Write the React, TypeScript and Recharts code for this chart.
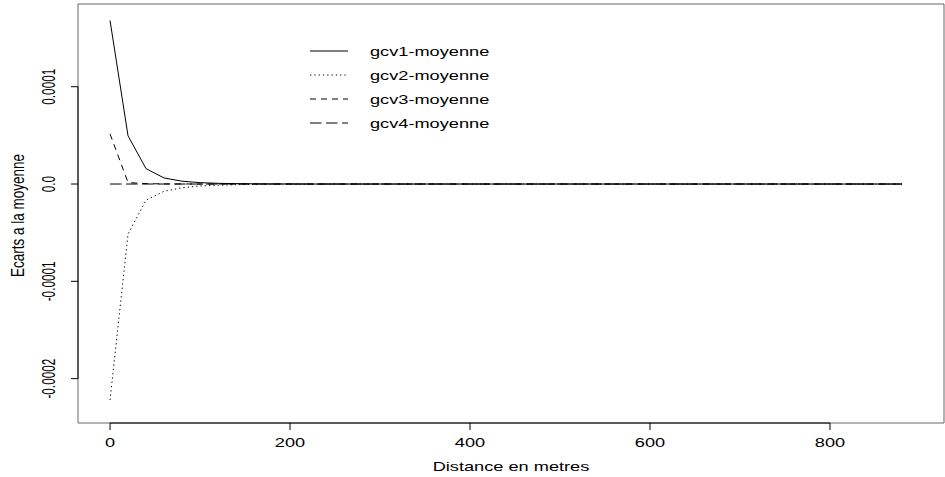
import { LineChart, Line, XAxis, YAxis, Legend, ReferenceArea, ReferenceLine, Label } from 'recharts';

// distance (m) sampled every 20 m
const distances = Array.from({ length: 45 }, (_, i) => i * 20);

const gcv1 = [
  0.000168, 0.0000495, 0.0000158, 0.0000062, 0.0000029, 0.0000014, 0.0000007, 0.0000004, 0.0000002,
  0.0000001, 0.00000005, 0, 0, 0, 0, 0, 0, 0, 0, 0, 0, 0, 0, 0, 0, 0, 0, 0, 0, 0, 0, 0, 0, 0, 0, 0,
  0, 0, 0, 0, 0, 0, 0, 0, 0,
];
const gcv2 = [
  -0.000222, -0.0000515, -0.0000165, -0.0000075, -0.0000038, -0.000002, -0.0000012, -0.0000007,
  -0.0000004, -0.0000002, -0.0000001, -0.00000005, 0, 0, 0, 0, 0, 0, 0, 0, 0, 0, 0, 0, 0, 0, 0, 0, 0,
  0, 0, 0, 0, 0, 0, 0, 0, 0, 0, 0, 0, 0, 0, 0, 0,
];
const gcv3 = [
  0.0000515, 0.0000015, 0.0000004, 0.0000001, 0.00000005, 0, 0, 0, 0, 0, 0, 0, 0, 0, 0, 0, 0, 0, 0,
  0, 0, 0, 0, 0, 0, 0, 0, 0, 0, 0, 0, 0, 0, 0, 0, 0, 0, 0, 0, 0, 0, 0, 0, 0, 0,
];
const gcv4 = [
  0, 0, 0, 0, 0, 0, 0, 0, 0, 0, 0, 0, 0, 0, 0, 0, 0, 0, 0, 0, 0, 0, 0, 0, 0, 0, 0, 0, 0, 0, 0, 0, 0,
  0, 0, 0, 0, 0, 0, 0, 0, 0, 0, 0, 0,
];

const xTicks = [0, 200, 400, 600, 800];
const yTicks = [-0.0002, -0.0001, 0, 0.0001];
const X_DOMAIN: [number, number] = [-35.6, 926.7];
const Y_DOMAIN: [number, number] = [-0.0002456, 0.000185];

const SERIES = [
  { key: 'gcv1', name: 'gcv1-moyenne', dash: undefined },
  { key: 'gcv2', name: 'gcv2-moyenne', dash: '1.3 3' },
  { key: 'gcv3', name: 'gcv3-moyenne', dash: '6 5' },
  { key: 'gcv4', name: 'gcv4-moyenne', dash: '11.5 4.5' },
];

const data = distances.map((d, i) => ({
  d,
  gcv1: gcv1[i],
  gcv2: gcv2[i],
  gcv3: gcv3[i],
  gcv4: gcv4[i],
}));

const FONT = '"Liberation Sans", Arial, Helvetica, sans-serif';

const fmtY = (v: number) => (v === 0 ? '0.0' : String(v));

// the output device stretches glyphs horizontally
const XTick = ({ x, y, payload }: any) => (
  <text
    transform={`translate(${x},${y + 16.5}) scale(1.4,1)`}
    textAnchor="middle"
    fontFamily={FONT}
    fontSize={13}
    fill="#000"
  >
    {payload.value}
  </text>
);

const YTick = ({ x, y, payload }: any) => (
  <text
    transform={`translate(${x - 16},${y}) scale(1.5,1) rotate(-90)`}
    textAnchor="middle"
    fontFamily={FONT}
    fontSize={11.8}
    fill="#000"
  >
    {fmtY(payload.value)}
  </text>
);

const XTitle = ({ viewBox }: any) => (
  <text
    transform={`translate(${viewBox.x + viewBox.width / 2},${viewBox.y + 47.7}) scale(1.4,1)`}
    textAnchor="middle"
    fontFamily={FONT}
    fontSize={13}
    fill="#000"
  >
    Distance en metres
  </text>
);

const YTitle = ({ viewBox }: any) => (
  <text
    transform={`translate(24,${viewBox.y + viewBox.height / 2 + 2}) scale(1.3,1) rotate(-90)`}
    textAnchor="middle"
    fontFamily={FONT}
    fontSize={13.5}
    fill="#000"
  >
    Ecarts a la moyenne
  </text>
);

const LegendBox = () => (
  <svg width={220} height={100}>
    {SERIES.map((s, i) => (
      <g key={s.key}>
        <line x1={10} x2={48} y1={13 + i * 24} y2={13 + i * 24} stroke="#000" strokeDasharray={s.dash} />
        <text
          transform={`translate(70,${13 + i * 24}) scale(1.4,1)`}
          dominantBaseline="central"
          fontFamily={FONT}
          fontSize={13}
          fill="#000"
        >
          {s.name}
        </text>
      </g>
    ))}
  </svg>
);

export default function App() {
  return (
    <div style={{ position: 'absolute', left: 0, top: 0, background: '#fff' }}>
      <LineChart width={945} height={477} data={data} margin={{ top: 4, right: 1, bottom: 0, left: 0 }}>
        <XAxis
          dataKey="d"
          type="number"
          domain={X_DOMAIN}
          ticks={xTicks}
          allowDataOverflow
          height={54}
          axisLine={false}
          tickSize={7}
          tickMargin={0}
          tickLine={{ stroke: '#000' }}
          tick={<XTick />}
        >
          <Label content={<XTitle />} />
        </XAxis>
        <YAxis
          type="number"
          domain={Y_DOMAIN}
          ticks={yTicks}
          allowDataOverflow
          width={78}
          axisLine={false}
          tickSize={7}
          tickMargin={0}
          tickLine={{ stroke: '#000' }}
          tick={<YTick />}
        >
          <Label content={<YTitle />} />
        </YAxis>
        <ReferenceArea
          x1={X_DOMAIN[0]}
          x2={X_DOMAIN[1]}
          y1={Y_DOMAIN[0]}
          y2={Y_DOMAIN[1]}
          fill="none"
          stroke="#666"
        />
        <ReferenceLine
          segment={[{ x: 0, y: Y_DOMAIN[0] }, { x: 800, y: Y_DOMAIN[0] }]}
          stroke="#000"
        />
        <ReferenceLine
          segment={[{ x: X_DOMAIN[0], y: -0.0002 }, { x: X_DOMAIN[0], y: 0.0001 }]}
          stroke="#000"
        />
        {SERIES.map((s) => (
          <Line
            key={s.key}
            dataKey={s.key}
            name={s.name}
            stroke="#000"
            strokeWidth={1}
            strokeDasharray={s.dash}
            dot={false}
            activeDot={false}
            isAnimationActive={false}
          />
        ))}
        {/* middle/center alignment keeps the legend from reserving plot space */}
        <Legend
          layout="horizontal"
          verticalAlign="middle"
          align="center"
          content={<LegendBox />}
          wrapperStyle={{ position: 'absolute', left: 300, top: 38, width: 220 }}
        />
      </LineChart>
    </div>
  );
}
